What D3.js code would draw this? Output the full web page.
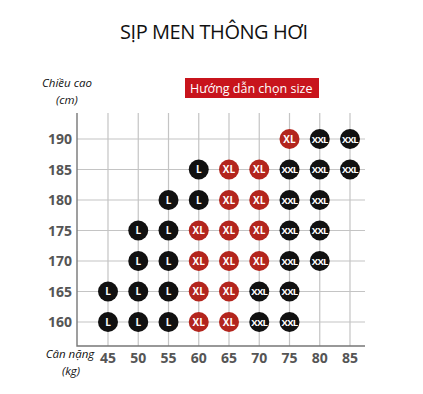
<!DOCTYPE html>
<html>
<head>
<meta charset="utf-8">
<script src="https://cdn.jsdelivr.net/npm/d3@7"></script>
<style>
  body { margin: 0; background: #fff; }
  svg { display: block; }
</style>
</head>
<body>
<div id="container"></div>
<script>
// size chart data
const weights = [45, 50, 55, 60, 65, 70, 75, 80, 85];
const heights = [160, 165, 170, 175, 180, 185, 190];

// one row per height, each entry [weight, size]
const row190 = [[75, "XL"], [80, "XXL"], [85, "XXL"]];
const row185 = [[60, "L"], [65, "XL"], [70, "XL"], [75, "XXL"], [80, "XXL"], [85, "XXL"]];
const row180 = [[55, "L"], [60, "L"], [65, "XL"], [70, "XL"], [75, "XXL"], [80, "XXL"]];
const row175 = [[50, "L"], [55, "L"], [60, "XL"], [65, "XL"], [70, "XL"], [75, "XXL"], [80, "XXL"]];
const row170 = [[50, "L"], [55, "L"], [60, "XL"], [65, "XL"], [70, "XL"], [75, "XXL"], [80, "XXL"]];
const row165 = [[45, "L"], [50, "L"], [55, "L"], [60, "XL"], [65, "XL"], [70, "XXL"], [75, "XXL"]];
const row160 = [[45, "L"], [50, "L"], [55, "L"], [60, "XL"], [65, "XL"], [70, "XXL"], [75, "XXL"]];

const rows = [[190, row190], [185, row185], [180, row180], [175, row175],
              [170, row170], [165, row165], [160, row160]];

const width = 423, height = 394;

const svg = d3.select("#container").append("svg")
  .attr("width", width)
  .attr("height", height);

const x = d3.scaleLinear().domain([45, 85]).range([108, 350]);
const y = d3.scaleLinear().domain([160, 190]).range([322, 139]);

const axLeft = 77, axBottom = 346, axTop = 113, axRight = 365;

// title
svg.append("text")
  .attr("x", 214).attr("y", 39)
  .attr("text-anchor", "middle")
  .attr("font-family", "'Open Sans', sans-serif")
  .attr("font-size", 20)
  .attr("fill", "#111")
  .attr("textLength", 188)
  .text("SỊP MEN THÔNG HƠI");

// legend box
svg.append("rect")
  .attr("x", 185).attr("y", 78)
  .attr("width", 134).attr("height", 20)
  .attr("fill", "#c8141c");
svg.append("text")
  .attr("x", 190).attr("y", 93)
  .attr("font-family", "'Open Sans', sans-serif")
  .attr("font-size", 12.5)
  .attr("fill", "#fff")
  .text("Hướng dẫn chọn size");

// grid lines
const grid = svg.append("g").attr("stroke", "#c4c4c4").attr("stroke-width", 1.2);
grid.selectAll("line.v").data(weights).enter().append("line")
  .attr("x1", d => x(d)).attr("x2", d => x(d))
  .attr("y1", axTop).attr("y2", axBottom);
grid.selectAll("line.h").data(heights).enter().append("line")
  .attr("x1", axLeft).attr("x2", axRight)
  .attr("y1", d => y(d)).attr("y2", d => y(d));

// axis lines
svg.append("path")
  .attr("d", `M${axLeft},${axTop}V${axBottom}H${axRight}`)
  .attr("fill", "none")
  .attr("stroke", "#777")
  .attr("stroke-width", 1.4);

// tick labels
svg.append("g").selectAll("text").data(heights).enter().append("text")
  .attr("x", 72).attr("y", d => y(d) + 5)
  .attr("text-anchor", "end")
  .attr("font-family", "'Open Sans', sans-serif")
  .attr("font-weight", "bold")
  .attr("font-size", 14)
  .attr("fill", "#555")
  .text(d => d);

svg.append("g").selectAll("text").data(weights).enter().append("text")
  .attr("x", d => x(d)).attr("y", 363)
  .attr("text-anchor", "middle")
  .attr("font-family", "'Open Sans', sans-serif")
  .attr("font-weight", "bold")
  .attr("font-size", 14)
  .attr("fill", "#555")
  .text(d => d);

// axis titles
const italic = (tx, ty, str) => svg.append("text")
  .attr("x", tx).attr("y", ty)
  .attr("text-anchor", "middle")
  .attr("font-family", "'Open Sans', sans-serif")
  .attr("font-style", "italic")
  .attr("font-size", 11.5)
  .attr("fill", "#111")
  .text(str);
italic(67, 87, "Chiều cao");
italic(67, 104, "(cm)");
italic(70, 358, "Cân nặng");
italic(71, 375, "(kg)");

// dots
const colors = { L: "#111", XL: "#b3251d", XXL: "#111" };
const points = rows.flatMap(([h, r]) => r.map(([w, s]) => ({ h, w, s })));

const dots = svg.append("g").selectAll("g").data(points).enter().append("g")
  .attr("transform", d => `translate(${x(d.w)},${y(d.h)})`);
dots.append("circle")
  .attr("r", 10)
  .attr("fill", d => colors[d.s]);
dots.append("text")
  .attr("y", 3.5)
  .attr("text-anchor", "middle")
  .attr("font-family", "'Open Sans', sans-serif")
  .attr("font-weight", "bold")
  .attr("font-size", d => d.s === "XXL" ? 9.5 : 10)
  .attr("letter-spacing", d => d.s === "XXL" ? -0.7 : 0)
  .attr("fill", "#fff")
  .text(d => d.s);
</script>
</body>
</html>
